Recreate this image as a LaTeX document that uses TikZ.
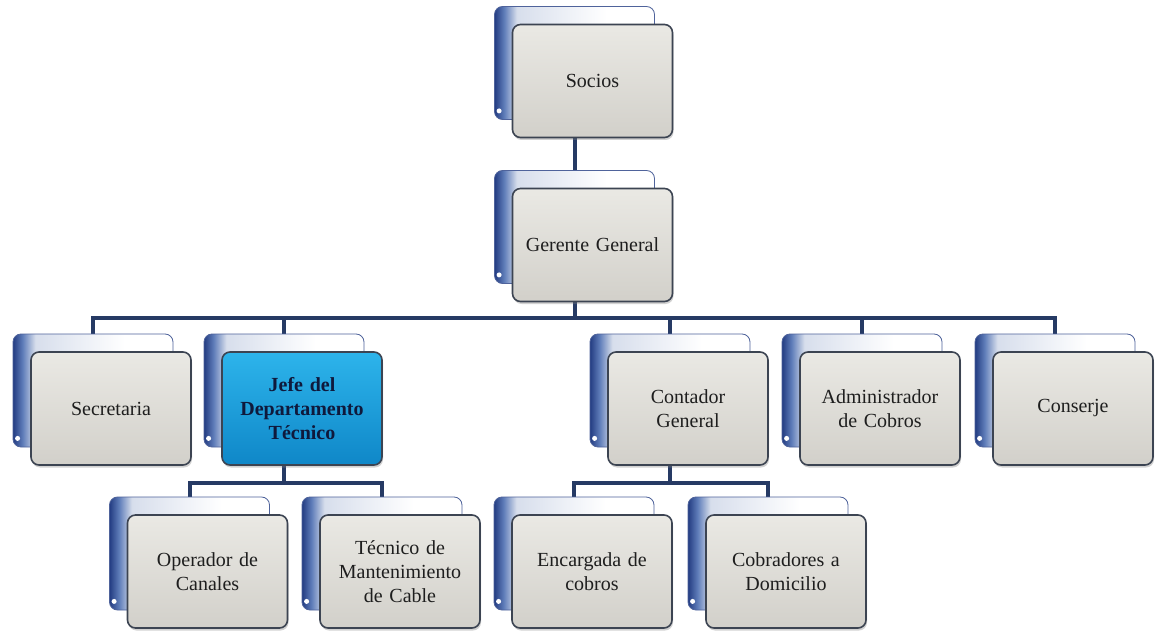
\documentclass[tikz,border=0pt]{standalone}
\usepackage{fontspec}
\setmainfont{Liberation Serif}
\usetikzlibrary{shadows,backgrounds}
\definecolor{linec}{RGB}{38,58,100}
\definecolor{bdark}{RGB}{35,60,130}
\definecolor{bmid}{RGB}{95,125,185}
\definecolor{blight}{RGB}{215,222,236}
\definecolor{frontbd}{RGB}{60,68,82}
\definecolor{ftop}{RGB}{234,233,228}
\definecolor{fbot}{RGB}{210,208,202}
\definecolor{htop}{RGB}{45,180,235}
\definecolor{hbot}{RGB}{15,135,200}
\definecolor{txt}{RGB}{30,30,30}
\definecolor{htxt}{RGB}{15,25,60}
\pgfdeclarehorizontalshading{backshade}{100bp}{color(0bp)=(bdark); color(25bp)=(bdark); color(28bp)=(bmid); color(32bp)=(blight); color(60bp)=(white); color(100bp)=(white)}
\tikzset{
  backbox/.style={rectangle, rounded corners=8pt, minimum width=160pt, minimum height=113pt,
    draw=bdark!80, line width=0.8pt, shading=backshade},
  frontbox/.style={rectangle, rounded corners=8pt, minimum width=160pt, minimum height=113pt,
    draw=frontbd, line width=1.6pt, top color=ftop, bottom color=fbot, text width=148pt,
    align=center, font=\fontsize{20}{24}\selectfont, text=txt,
    drop shadow={shadow xshift=1pt, shadow yshift=-2.5pt, opacity=0.35}},
  hilite/.style={top color=htop, bottom color=hbot, text=htxt,
    font=\fontsize{20}{24}\selectfont\bfseries},
  conn/.style={draw=linec, line width=4pt},
}
\newcommand\orgunit[5][]{%
  \node[backbox] (#2B) at ({#3-18},{#4-18}) {};
  \fill[white] ([shift={(5pt,9pt)}]#2B.south west) circle (2.5pt);
  \node[frontbox,#1] (#2) at (#3,#4) {#5};
}
\begin{document}
\begin{tikzpicture}[x=1pt,y=-1pt]
\useasboundingbox (0,0) rectangle (1165,631);
\orgunit{soc}{592.5}{81}{Socios}
\orgunit{ger}{592.5}{245}{Gerente General}
\orgunit{sec}{111}{408.5}{Secretaria}
\orgunit[hilite]{jef}{302}{408.5}{Jefe del\\Departamento\\Técnico}
\orgunit{cont}{688}{408.5}{Contador\\General}
\orgunit{adm}{880}{408.5}{Administrador\\de Cobros}
\orgunit{conj}{1073}{408.5}{Conserje}
\orgunit{op}{207.5}{571.5}{Operador de\\Canales}
\orgunit{tec}{400}{571.5}{Técnico de\\Mantenimiento\\de Cable}
\orgunit{enc}{592}{571.5}{Encargada de\\cobros}
\orgunit{cob}{786}{571.5}{Cobradores a\\Domicilio}
\coordinate (bus1) at (0,318);
\coordinate (bus2) at (0,483);
\begin{pgfonlayer}{background}
\fill[white] (0,0) rectangle (1165,631);
\draw[conn] (socB.south) -- (gerB.north);
\draw[conn] (gerB.south) -- (gerB.south |- bus1);
\draw[conn] (secB.north) -- (secB.north |- bus1) -- (conjB.north |- bus1) -- (conjB.north);
\draw[conn] (jefB.north) -- (jefB.north |- bus1);
\draw[conn] (contB.north) -- (contB.north |- bus1);
\draw[conn] (admB.north) -- (admB.north |- bus1);
\draw[conn] (jefB.south) -- (jefB.south |- bus2);
\draw[conn] (opB.north) |- (tecB.north |- bus2) -- (tecB.north);
\draw[conn] (contB.south) -- (contB.south |- bus2);
\draw[conn] (encB.north) |- (cobB.north |- bus2) -- (cobB.north);
\end{pgfonlayer}
\end{tikzpicture}
\end{document}
